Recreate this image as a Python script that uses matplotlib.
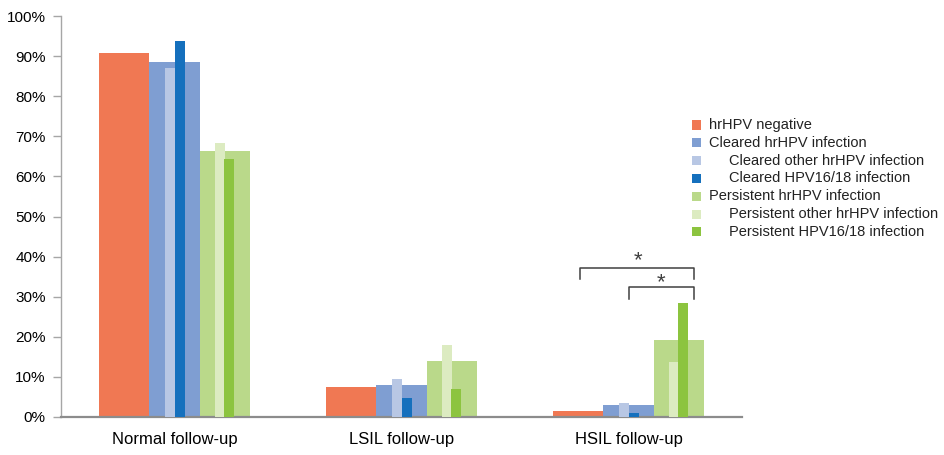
import matplotlib
matplotlib.use("Agg")
import matplotlib.pyplot as plt
from matplotlib.patches import Rectangle
from matplotlib.ticker import PercentFormatter
import numpy as np

plt.rcParams['font.family'] = ['Liberation Sans', 'DejaVu Sans']

categories = ["Normal follow-up", "LSIL follow-up", "HSIL follow-up"]

# percentages per follow-up outcome
hrhpv_negative = [90.7, 7.5, 1.4]
cleared_hrhpv = [88.5, 7.9, 3.0]
cleared_other = [87.0, 9.5, 3.5]
cleared_1618 = [93.8, 4.7, 1.0]
persistent_hrhpv = [66.4, 14.0, 19.2]
persistent_other = [68.3, 18.0, 13.7]
persistent_1618 = [64.3, 7.0, 28.4]

series_labels = [
    "hrHPV negative",
    "Cleared hrHPV infection",
    "Cleared other hrHPV infection",
    "Cleared HPV16/18 infection",
    "Persistent hrHPV infection",
    "Persistent other hrHPV infection",
    "Persistent HPV16/18 infection",
]
colors = ["#F07853", "#7F9ED2", "#B8C7E4", "#1570BD",
          "#BAD98A", "#DCEBC1", "#8CC43F"]
indented = [False, False, True, True, False, True, True]

fig = plt.figure(figsize=(9.45, 4.55), dpi=100)
ax = fig.add_axes([61 / 945, 1 - 417 / 455, 681 / 945, 401 / 455])

x = np.arange(len(categories))
w_main = 0.221
w_sub = 0.044
off_a = -0.018
off_b = 0.025

ax.bar(x - w_main, hrhpv_negative, w_main, color=colors[0], zorder=2)
ax.bar(x, cleared_hrhpv, w_main, color=colors[1], zorder=2)
ax.bar(x + off_a, cleared_other, w_sub, color=colors[2], zorder=3)
ax.bar(x + off_b, cleared_1618, w_sub, color=colors[3], zorder=3)
ax.bar(x + w_main, persistent_hrhpv, w_main, color=colors[4], zorder=2)
ax.bar(x + w_main + off_a - 0.004, persistent_other, w_sub, color=colors[5], zorder=3)
ax.bar(x + w_main + off_b - 0.004, persistent_1618, w_sub, color=colors[6], zorder=3)

ax.set_xlim(-0.5, 2.5)
ax.set_ylim(0, 100)
ax.set_yticks(np.arange(0, 101, 10))
ax.yaxis.set_major_formatter(PercentFormatter(decimals=0))
ax.set_xticks(x)
ax.set_xticklabels(categories, fontsize=12)
ax.tick_params(axis='x', length=0, pad=11)
ax.tick_params(axis='y', labelsize=11, length=6, width=1, color="#A6A6A6", pad=5)

for side in ("top", "right"):
    ax.spines[side].set_visible(False)
ax.spines["left"].set_color("#A6A6A6")
ax.spines["left"].set_linewidth(1.0)
ax.spines["bottom"].set_color("#8C8C8C")
ax.spines["bottom"].set_linewidth(1.6)

# significance brackets over the HSIL group
def bracket(x0, x1, y, drop, label_x, label_y):
    ax.plot([x0, x0, x1, x1], [y - drop, y, y, y - drop],
            color="#404040", lw=1.1, zorder=4, clip_on=False)
    ax.text(label_x, label_y, "*", ha="center", va="bottom",
            fontsize=16, color="#404040")

bracket(1.788, 2.288, 37.2, 2.8, 2.04, 36.4)
bracket(2.004, 2.288, 32.4, 3.0, 2.142, 30.8)

# legend with indented sub-groups
for i, (lab, col, ind) in enumerate(zip(series_labels, colors, indented)):
    yc = 125 + i * 17.8
    fig.patches.append(Rectangle((692 / 945, 1 - (yc + 4.5) / 455), 9 / 945, 9 / 455,
                                 transform=fig.transFigure, facecolor=col,
                                 edgecolor="none"))
    tx = (729 if ind else 709) / 945
    fig.text(tx, 1 - yc / 455, lab, fontsize=10.5, va="center", ha="left",
             color="#222222")

fig.savefig("out.png", dpi=100)
